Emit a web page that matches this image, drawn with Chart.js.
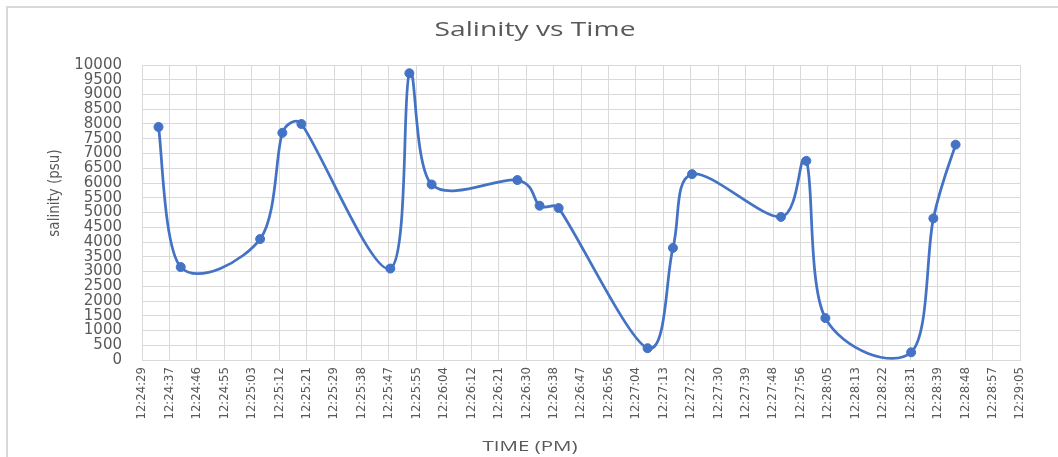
<!DOCTYPE html>
<html><head><meta charset="utf-8">
<script src="https://cdn.jsdelivr.net/npm/chart.js@4/dist/chart.umd.min.js"></script>
<style>
html,body{margin:0;padding:0;background:#fff;}
#wrap{position:relative;width:1058px;height:457px;overflow:hidden;}
#frame{position:absolute;left:6px;top:6px;right:-4px;bottom:-4px;border-left:2px solid #d9d9d9;border-top:2px solid #d9d9d9;pointer-events:none;}
canvas{position:absolute;left:0;top:0;}
</style></head><body>
<div id="wrap"><canvas id="c" width="1058" height="457"></canvas><div id="frame"></div></div>
<script>
// sample times (PM) and salinity readings
const times = ["12:24:34","12:24:41","12:25:06","12:25:13","12:25:19","12:25:47","12:25:53","12:26:00","12:26:27","12:26:34","12:26:40","12:27:08","12:27:16","12:27:22","12:27:50","12:27:58","12:28:04","12:28:31","12:28:38","12:28:45"];
const salinity = [7900,3150,4100,7700,8000,3100,9720,5950,6100,5230,5150,400,3800,6300,4850,6750,1420,260,4800,7300];
const tickLabels = ["12:24:29","12:24:37","12:24:46","12:24:55","12:25:03","12:25:12","12:25:21","12:25:29","12:25:38","12:25:47","12:25:55","12:26:04","12:26:12","12:26:21","12:26:30","12:26:38","12:26:47","12:26:56","12:27:04","12:27:13","12:27:22","12:27:30","12:27:39","12:27:48","12:27:56","12:28:05","12:28:13","12:28:22","12:28:31","12:28:39","12:28:48","12:28:57","12:29:05"];
const axisMinDay = 0.5170, axisMaxDay = 0.5202, majorUnitDay = 0.0001;
const yMin = 0, yMax = 10000, yStep = 500;

const DAY = 86400;
const toSec = t => { const [h,m,s] = t.split(':').map(Number); return h*3600 + m*60 + s; };
const points = times.map((t,i) => ({x: toSec(t), y: salinity[i]}));
const xMin = axisMinDay*DAY, xMax = axisMaxDay*DAY, xStep = majorUnitDay*DAY;

const TEXT = '#595959', GRID = '#d9d9d9', BLUE = '#4472C4';
const narrow = '"Liberation Sans Narrow", "DejaVu Sans Condensed", "Roboto Condensed", sans-serif';

function drawScaled(ctx, text, cx, cy, font, targetW){
  ctx.save();
  ctx.font = font;
  ctx.fillStyle = TEXT;
  ctx.textAlign = 'center';
  ctx.textBaseline = 'middle';
  const w = ctx.measureText(text).width;
  ctx.translate(cx, cy);
  ctx.scale(targetW / w, 1);
  ctx.fillText(text, 0, 0);
  ctx.restore();
}

const titles = {
  id: 'titles',
  afterDraw(chart){
    const ctx = chart.ctx;
    drawScaled(ctx, 'Salinity vs Time', 535, 30, '20px "Open Sans"', 201);
    drawScaled(ctx, 'TIME (PM)', 530, 447, '15px "Open Sans"', 95);
    ctx.save();
    ctx.translate(55, 193);
    ctx.rotate(-Math.PI/2);
    ctx.font = '15px ' + narrow;
    ctx.fillStyle = TEXT;
    ctx.textAlign = 'center';
    ctx.textBaseline = 'middle';
    ctx.fillText('salinity (psu)', 0, 0);
    ctx.restore();
  }
};

// Spreadsheet-style smoothing: Catmull-Rom (1/6) control points, limited to half a segment
const SX = 1.35;
function smooth(meta){
  const line = meta.dataset, pts = meta.data;
  if (!line || !pts || pts.length < 2) return;
  const d = (a,b) => Math.hypot((a.x-b.x)/SX, a.y-b.y);
  const f = 1/6, n = pts.length;
  for (let i = 0; i < n-1; i++){
    const p1 = pts[i], p2 = pts[i+1], p0 = pts[i-1] || p1, p3 = pts[i+2] || p2;
    const d12 = d(p1,p2), d02 = d(p0,p2), d13 = d(p1,p3);
    const f1 = (d02*f < d12/2) ? f : d12/(2*d02);
    const f2 = (d13*f < d12/2) ? f : d12/(2*d13);
    p1.cp2x = p1.x + f1*(p2.x-p0.x); p1.cp2y = p1.y + f1*(p2.y-p0.y);
    p2.cp1x = p2.x - f2*(p3.x-p1.x); p2.cp1y = p2.y - f2*(p3.y-p1.y);
  }
  pts[0].cp1x = pts[0].x; pts[0].cp1y = pts[0].y;
  pts[n-1].cp2x = pts[n-1].x; pts[n-1].cp2y = pts[n-1].y;
  line._pointsUpdated = true;
  line._path = undefined;
}
const excelSmooth = {
  id: 'excelSmooth',
  afterDatasetUpdate(chart, args){ smooth(chart.getDatasetMeta(args.index)); },
  beforeDatasetDraw(chart, args){ smooth(args.meta); }
};

new Chart(document.getElementById('c'), {
  type: 'line',
  data: {
    datasets: [{
      data: points,
      borderColor: BLUE,
      backgroundColor: BLUE,
      borderWidth: 2.75,
      pointRadius: 4.5,
      pointBorderWidth: 1,
      pointBackgroundColor: BLUE,
      pointBorderColor: BLUE,
      fill: false,
      tension: 0.4
    }]
  },
  options: {
    responsive: false,
    animation: false,
    devicePixelRatio: 1,
    layout: { padding: { top: 65, right: 38, left: 0, bottom: 0 } },
    plugins: { legend: { display: false }, tooltip: { enabled: false }, title: { display: false } },
    scales: {
      x: {
        type: 'linear',
        min: xMin, max: xMax,
        afterBuildTicks: s => { s.ticks = tickLabels.map((_, i) => ({ value: xMin + i*xStep })); },
        afterFit: s => { s.height = 97; },
        ticks: {
          autoSkip: false, minRotation: 90, maxRotation: 90, padding: 7,
          color: TEXT, font: { family: narrow, size: 13 },
          callback: (v, i) => tickLabels[i]
        },
        grid: { color: GRID, lineWidth: 1, drawTicks: false },
        border: { color: GRID, width: 1 }
      },
      y: {
        min: yMin, max: yMax,
        afterFit: s => { s.width = 142; },
        ticks: {
          stepSize: yStep, autoSkip: false, padding: 20,
          color: TEXT, font: { family: '"DejaVu Sans"', size: 15 },
          callback: v => String(v)
        },
        grid: { color: GRID, lineWidth: 1, drawTicks: false },
        border: { color: GRID, width: 1 }
      }
    }
  },
  plugins: [titles, excelSmooth]
});
</script>
</body></html>
